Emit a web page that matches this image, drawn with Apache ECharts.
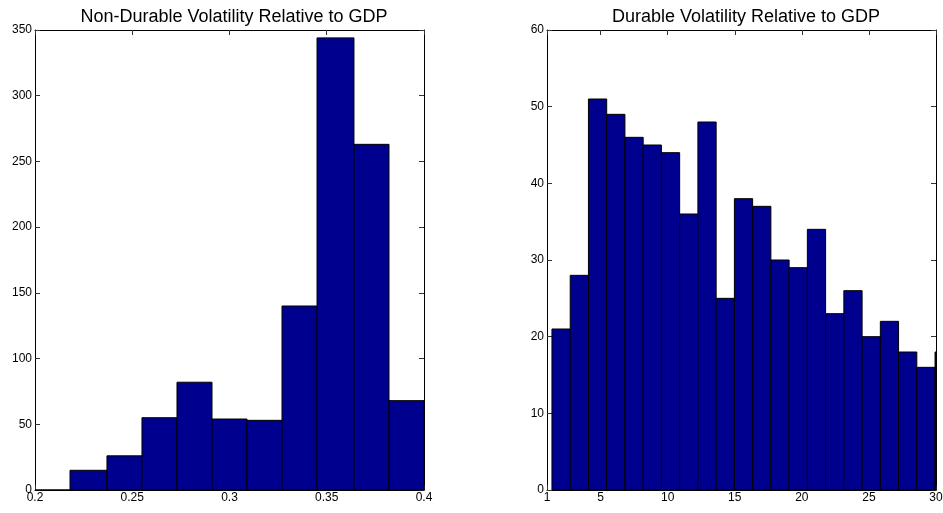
<!DOCTYPE html>
<html>
<head>
<meta charset="utf-8">
<title>Volatility Relative to GDP</title>
<script src="https://cdn.jsdelivr.net/npm/echarts@6/dist/echarts.min.js"></script>
<style>
  html, body { margin: 0; padding: 0; background: #ffffff; }
  #chart { width: 943px; height: 513px; }
</style>
</head>
<body>
<div id="chart"></div>
<script>
// Non-durable volatility histogram: bin edges and counts per bin
const nonDurableEdges = [0.200, 0.218, 0.237, 0.255, 0.273, 0.291, 0.309, 0.327, 0.345, 0.364, 0.382, 0.400];
const nonDurableCounts = [0, 15, 26, 55, 82, 54, 53, 140, 344, 263, 68];

// Durable volatility histogram: bin edges and counts per bin
const durableEdges = [1.37, 2.73, 4.09, 5.45, 6.81, 8.17, 9.53, 10.89, 12.25, 13.61, 14.97, 16.33,
                      17.69, 19.05, 20.41, 21.77, 23.13, 24.49, 25.85, 27.21, 28.57, 29.93, 31.29];
const durableCounts = [21, 28, 51, 49, 46, 45, 44, 36, 48, 25, 38, 37, 30, 29, 34, 23, 26, 20, 22, 18, 16, 18];

// Axis ticks
const nonDurableXTicks = [0.2, 0.25, 0.3, 0.35, 0.4];
const nonDurableYTicks = [0, 50, 100, 150, 200, 250, 300, 350];
const durableXTicks = [1, 5, 10, 15, 20, 25, 30];
const durableYTicks = [0, 10, 20, 30, 40, 50, 60];

const titles = ['Non-Durable Volatility Relative to GDP', 'Durable Volatility Relative to GDP'];

function toBins(edges, counts) {
  return counts.map((c, i) => [edges[i], edges[i + 1], c]);
}

const FONT = 'Liberation Sans, Arial, Helvetica, sans-serif';
const BAR_FILL = '#00008f';

// Each bin is a rectangle from its left edge to its right edge, clipped to the plot box.
function renderBin(params, api) {
  const p0 = api.coord([api.value(0), api.value(2)]);
  const p1 = api.coord([api.value(1), 0]);
  const cs = params.coordSys;
  const rect = echarts.graphic.clipRectByRect(
    { x: p0[0], y: p0[1], width: p1[0] - p0[0], height: p1[1] - p0[1] },
    { x: cs.x, y: cs.y, width: cs.width, height: cs.height }
  );
  if (!rect) return null;
  return {
    type: 'rect',
    shape: rect,
    style: { fill: BAR_FILL, stroke: '#000000', lineWidth: 1 }
  };
}

const lineStyle = { color: '#000000', width: 1 };
const tickStyle = { color: '#333333', width: 1 };
const labelStyle = { color: '#000000', fontSize: 12, fontFamily: FONT };

function xAxes(grid, min, max, ticks) {
  const base = {
    gridIndex: grid, type: 'value', min: min, max: max,
    splitLine: { show: false },
    axisLine: { show: true, onZero: false, lineStyle: lineStyle },
    axisTick: { show: true, inside: true, length: 5, lineStyle: tickStyle, customValues: ticks }
  };
  return [
    Object.assign({}, base, {
      position: 'bottom',
      axisLabel: Object.assign({ show: true, margin: 2, customValues: ticks }, labelStyle)
    }),
    Object.assign({}, base, { position: 'top', axisLabel: { show: false } })
  ];
}

function yAxes(grid, min, max, ticks) {
  const base = {
    gridIndex: grid, type: 'value', min: min, max: max,
    splitLine: { show: false },
    axisLine: { show: true, onZero: false, lineStyle: lineStyle },
    axisTick: { show: true, inside: true, length: 5, lineStyle: tickStyle, customValues: ticks }
  };
  return [
    Object.assign({}, base, {
      position: 'left',
      axisLabel: Object.assign({ show: true, margin: 3, customValues: ticks }, labelStyle)
    }),
    Object.assign({}, base, { position: 'right', axisLabel: { show: false } })
  ];
}

const chart = echarts.init(document.getElementById('chart'), null, { renderer: 'canvas' });

chart.setOption({
  animation: false,
  backgroundColor: '#ffffff',
  title: [
    { text: titles[0], left: 229, top: 3, textAlign: 'center',
      textStyle: { fontFamily: FONT, fontSize: 18, fontWeight: 'normal', color: '#000000' } },
    { text: titles[1], left: 741, top: 3, textAlign: 'center',
      textStyle: { fontFamily: FONT, fontSize: 18, fontWeight: 'normal', color: '#000000' } }
  ],
  grid: [
    { left: 35, top: 30, width: 389, height: 460, outerBoundsMode: 'none' },
    { left: 547, top: 30, width: 389, height: 460, outerBoundsMode: 'none' }
  ],
  xAxis: [].concat(
    xAxes(0, 0.2, 0.4, nonDurableXTicks),
    xAxes(1, 1, 30, durableXTicks)
  ),
  yAxis: [].concat(
    yAxes(0, 0, 350, nonDurableYTicks),
    yAxes(1, 0, 60, durableYTicks)
  ),
  series: [
    {
      type: 'custom', xAxisIndex: 0, yAxisIndex: 0,
      renderItem: renderBin,
      encode: { x: [0, 1], y: 2 },
      data: toBins(nonDurableEdges, nonDurableCounts)
    },
    {
      type: 'custom', xAxisIndex: 2, yAxisIndex: 2,
      renderItem: renderBin,
      encode: { x: [0, 1], y: 2 },
      data: toBins(durableEdges, durableCounts)
    }
  ]
});
</script>
</body>
</html>
